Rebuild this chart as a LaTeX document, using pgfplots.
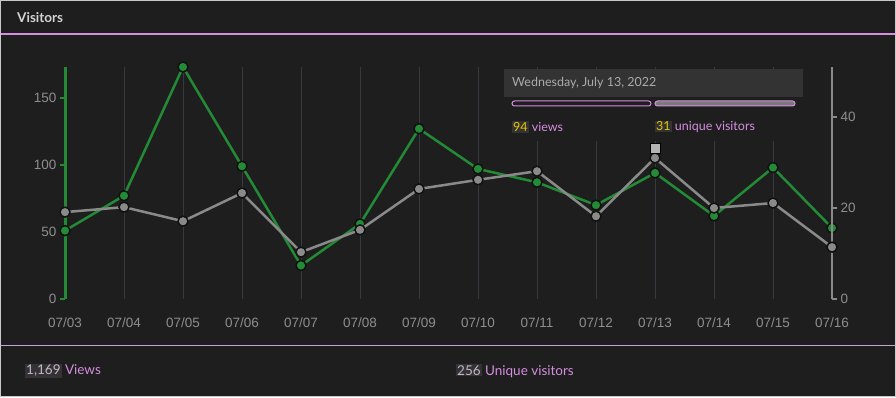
\documentclass[border=0pt]{standalone}
\usepackage{pgfplots}
\pgfplotsset{compat=1.18}
\usepackage{fontspec}
\setmainfont{Lato}
\newfontfamily\tickfont{Liberation Sans}
\definecolor{bg}{HTML}{1E1E1E}
\definecolor{bordc}{HTML}{C8C8C8}
\definecolor{pinkc}{HTML}{D58EE0}
\definecolor{sepc}{HTML}{C9A3D2}
\definecolor{headc}{HTML}{D4D4D4}
\definecolor{gridc}{HTML}{363A40}
\definecolor{greenc}{HTML}{238A36}
\definecolor{grayc}{HTML}{8A8A8A}
\definecolor{tickc}{HTML}{8E8E8E}
\definecolor{outc}{HTML}{111111}
\definecolor{boxc}{HTML}{333333}
\definecolor{numc}{HTML}{C4B4C8}
\definecolor{yelc}{HTML}{E8C400}
\definecolor{tipc}{HTML}{ABABAB}
\definecolor{pillc}{HTML}{7A7A7A}
\definecolor{sqc}{HTML}{B4B4B4}
\pgfplotstableread{
x views
0 51
1 77
2 173
3 99
4 25
5 56
6 127
7 97
8 87
9 70
10 94
11 62
12 98
13 53
}\views
\pgfplotstableread{
x uniq
0 19.1
1 20.2
2 17.1
3 23.3
4 10.3
5 15.2
6 24.2
7 26.2
8 28.1
9 18.2
10 31
11 20
12 21.1
13 11.4
}\uniq
\begin{document}
\begin{tikzpicture}
\fill[bg] (0pt,0pt) rectangle (896pt,397pt);
\draw[bordc,line width=1pt] (0.5pt,0.5pt) rectangle (895.5pt,396.5pt);
\draw[pinkc,line width=1.2pt] (1pt,363pt) -- (895pt,363pt);
\draw[sepc,line width=1pt] (1pt,52pt) -- (895pt,52pt);
\node[anchor=west, text=headc, inner sep=0pt, font=\fontsize{13.5}{15}\selectfont\bfseries] at (17pt,379pt) {Visitors};
\begin{axis}[at={(65pt,98pt)}, anchor=south west, scale only axis,
  width=767pt, height=232pt, xmin=0, xmax=13, ymin=0, ymax=173,
  clip=false,
  axis x line*=bottom, axis y line*=left,
  axis line style={-},
  x axis line style={draw=none},
  y axis line style={draw=greenc, line width=3pt},
  xtick={0,...,13},
  xticklabels={07/03,07/04,07/05,07/06,07/07,07/08,07/09,07/10,07/11,07/12,07/13,07/14,07/15,07/16},
  xtick style={draw=none},
  xmajorgrids, major x grid style={color=gridc, line width=1pt},
  ytick={0,50,100,150},
  ytick style={draw=greenc, line width=1.5pt},
  major tick length=5pt, tick align=outside,
  /pgf/number format/assume math mode=true,
  ticklabel style={text=tickc, font=\tickfont\fontsize{13.5}{15}\selectfont},
  xticklabel style={yshift=-10pt},
]
\addplot[greenc, line width=2.5pt, mark=*, mark size=5pt,
  mark options={draw=outc, fill=greenc, line width=1.5pt}] table[x=x,y=views] {\views};
\end{axis}
\begin{axis}[at={(65pt,98pt)}, anchor=south west, scale only axis,
  width=767pt, height=232pt, xmin=0, xmax=13, ymin=0, ymax=51,
  clip=false,
  axis x line=none, axis y line*=right,
  axis line style={-},
  y axis line style={draw=grayc, line width=2.5pt},
  ytick={0,20,40},
  ytick style={draw=grayc, line width=1.5pt},
  major tick length=5pt, tick align=outside,
  /pgf/number format/assume math mode=true,
  ticklabel style={text=tickc, font=\tickfont\fontsize{13.5}{15}\selectfont},
]
\addplot[grayc, line width=2.5pt, mark=*, mark size=5pt,
  mark options={draw=outc, fill=grayc, line width=1.5pt}] table[x=x,y=uniq] {\uniq};
\addplot[only marks, mark=square*, mark size=5pt, mark options={draw=none, fill=sqc}] coordinates {(10,33.2)};
\end{axis}
% tooltip
\fill[bg] (504pt,256pt) rectangle (803pt,328pt);
\fill[boxc] (504pt,300pt) rectangle (803pt,328pt);
\node[anchor=west, text=tipc, inner sep=0pt, font=\fontsize{12.5}{14}\selectfont] at (512pt,314pt) {Wednesday, July 13, 2022};
\draw[pinkc, fill=bg, line width=1pt, rounded corners=2.5pt] (512pt,291pt) rectangle (651pt,296pt);
\draw[pinkc, fill=pillc, line width=1pt, rounded corners=2.5pt] (655pt,291pt) rectangle (795pt,296pt);
\setlength\fboxsep{1pt}
\node[anchor=west, text=pinkc, inner sep=0pt, font=\fontsize{12.5}{14}\selectfont] at (512pt,270pt) {\colorbox{boxc}{\textcolor{yelc}{94}} views};
\node[anchor=west, text=pinkc, inner sep=0pt, font=\fontsize{12.5}{14}\selectfont] at (655pt,270pt) {\colorbox{boxc}{\textcolor{yelc}{31}} unique visitors};
% footer
\node[anchor=west, text=pinkc, inner sep=0pt, font=\fontsize{13.5}{15}\selectfont] at (25pt,26pt) {\colorbox{boxc}{\textcolor{numc}{1,169}} Views};
\node[anchor=west, text=pinkc, inner sep=0pt, font=\fontsize{13.5}{15}\selectfont] at (456pt,26pt) {\colorbox{boxc}{\textcolor{numc}{256}} Unique visitors};
\end{tikzpicture}
\end{document}
